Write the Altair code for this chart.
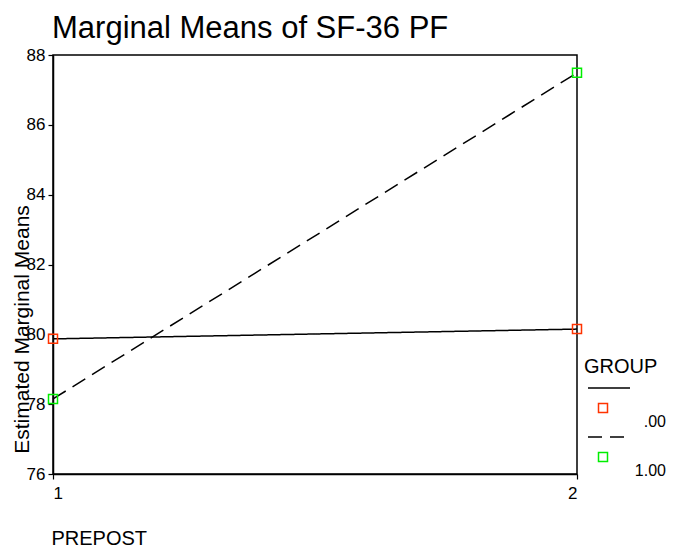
import altair as alt
import pandas as pd

# ---- data ----
prepost = [1, 2]
group_labels = [".00", "1.00"]
means_g0 = [79.87, 80.15]
means_g1 = [78.15, 87.49]

rows = []
for g, vals in zip(group_labels, [means_g0, means_g1]):
    for p, v in zip(prepost, vals):
        rows.append({"PREPOST": p, "GROUP": g, "mean": v})
df = pd.DataFrame(rows)

W, H = 524, 419
FONT = "Liberation Sans"
RED = "#ff3300"
GREEN = "#00ee00"

x_enc = alt.X(
    "PREPOST:Q",
    scale=alt.Scale(domain=[1, 2], nice=False, zero=False),
    axis=alt.Axis(
        values=[1, 2], format="d", title="PREPOST",
        titleAnchor="start", titleAlign="left", titleBaseline="middle",
        titleX=-2, titleY=64, titleFontSize=20, titleFontWeight="normal",
        labelFontSize=17, labelPadding=6, tickSize=5,
    ),
)
y_enc = alt.Y(
    "mean:Q",
    scale=alt.Scale(domain=[76, 88], nice=False, zero=False),
    axis=alt.Axis(
        values=[76, 78, 80, 82, 84, 86, 88], title="Estimated Marginal Means",
        titleAngle=-90, titleAlign="center", titleBaseline="middle",
        titleX=-31, titleY=274, titleFontSize=21, titleFontWeight="normal",
        labelFontSize=17, labelPadding=3, tickSize=5,
    ),
)

lines = alt.Chart(df).mark_line(color="black", strokeWidth=1.5).encode(
    x=x_enc, y=y_enc,
    strokeDash=alt.StrokeDash(
        "GROUP:N",
        scale=alt.Scale(domain=group_labels, range=[[1, 0], [15, 8]]),
        legend=None,
    ),
)
points = alt.Chart(df).mark_point(
    shape="square", filled=False, size=81, strokeWidth=1.5, opacity=1
).encode(
    x=x_enc, y=y_enc,
    color=alt.Color(
        "GROUP:N", scale=alt.Scale(domain=group_labels, range=[RED, GREEN]), legend=None
    ),
)

# ---- chart title as a text mark ----
title = alt.Chart(pd.DataFrame({"t": ["Marginal Means of SF-36 PF"]})).mark_text(
    align="left", baseline="alphabetic", fontSize=31, font=FONT, color="black"
).encode(text="t:N", x=alt.value(-1), y=alt.value(-17))

# ---- hand-built legend (SPSS style) ----
leg_x0 = 535
leg_x1 = 577
leg_layers = [
    alt.Chart(pd.DataFrame({"t": ["GROUP"]})).mark_text(
        align="left", baseline="middle", fontSize=20, font=FONT, color="black"
    ).encode(text="t:N", x=alt.value(531), y=alt.value(312))
]
dashes = [[1, 0], [14, 8]]
cols = [RED, GREEN]
for i, g in enumerate(group_labels):
    base_y = 333 + i * 49
    leg_layers.append(
        alt.Chart(pd.DataFrame({"g": [g]})).mark_rule(
            color="black", strokeWidth=1.5, strokeDash=dashes[i]
        ).encode(x=alt.value(leg_x0), x2=alt.value(leg_x1), y=alt.value(base_y))
    )
    leg_layers.append(
        alt.Chart(pd.DataFrame({"g": [g]})).mark_point(
            shape="square", filled=False, size=81, strokeWidth=1.5, color=cols[i], opacity=1
        ).encode(x=alt.value(550), y=alt.value(base_y + 20))
    )
    leg_layers.append(
        alt.Chart(pd.DataFrame({"g": [g]})).mark_text(
            align="right", baseline="middle", fontSize=16, font=FONT, color="black"
        ).encode(text="g:N", x=alt.value(613), y=alt.value(base_y + 34))
    )

chart = alt.layer(lines, points, title, *leg_layers).properties(
    width=W, height=H,
    autosize=alt.AutoSizeParams(type="none"),
    padding={"left": 45, "top": 47, "right": 90, "bottom": 76},
).configure(
    font=FONT,
    background="white",
).configure_view(
    stroke="black", strokeWidth=1.5
).configure_axis(
    grid=False, domainColor="black", domainWidth=1.5, tickColor="black",
    tickWidth=1.2, labelColor="black", titleColor="black", labelFont=FONT, titleFont=FONT,
)

chart.save("out.html", embed_options={"renderer": "svg", "actions": False})
